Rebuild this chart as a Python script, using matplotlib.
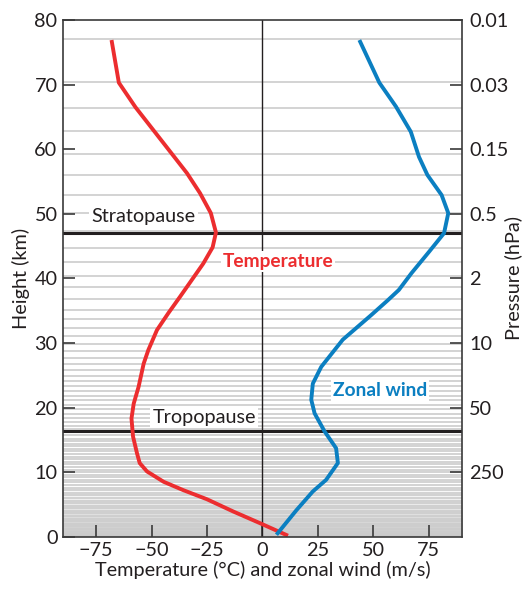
import numpy as np
import matplotlib
matplotlib.use("Agg")
import matplotlib.pyplot as plt

plt.rcParams['font.family'] = ['Lato', 'DejaVu Sans']

# Temperature profile (°C) vs height (km)
temp_h = [76.9, 70.3, 66.5, 56.3, 53.2, 50.1, 47.1, 44.8, 42.3, 37.2, 34.6, 32.0, 28.9,
          26.8, 23.2, 20.6, 18.3, 15.5, 12.9, 11.4, 10.1, 8.5, 7.2, 5.8, 3.9, 2.1, 0.15]
temp_c = [-68.1, -64.8, -57.3, -34.1, -28.2, -23.3, -21.0, -22.5, -26.7, -37.1, -42.5, -47.6, -51.5,
          -53.6, -55.9, -58.1, -59.1, -58.4, -56.6, -55.4, -52.1, -44.6, -35.7, -25.1, -13.2, -1.2, 11.5]

# Zonal wind profile (m/s) vs height (km)
wind_h = [76.9, 70.3, 66.6, 62.7, 58.8, 56.0, 52.9, 50.1, 47.0, 44.1, 40.8, 38.2, 36.6, 34.3,
          30.5, 26.3, 23.7, 21.2, 19.1, 16.3, 13.7, 11.4, 8.8, 7.0, 4.1, 0.3]
wind_ms = [43.7, 52.7, 60.2, 66.9, 70.6, 74.4, 80.8, 83.8, 81.9, 75.1, 67.2, 61.5, 56.5, 49.0,
           36.2, 26.5, 22.7, 22.0, 23.5, 28.0, 33.2, 34.0, 28.7, 22.7, 15.3, 6.3]

# Model level heights (km), grey horizontal lines
level_h = [77.0, 70.4, 66.4, 62.8, 59.3, 56.0, 52.9, 50.1, 47.3, 44.7, 42.6, 40.4, 38.6, 36.8,
           35.1, 33.7, 32.3, 31.0, 29.8, 28.7, 27.7, 26.7, 25.8, 24.9, 24.1, 23.3, 22.6, 21.8,
           21.2, 20.4, 19.7, 19.0, 18.4, 17.8, 17.2, 16.7, 16.2, 15.7, 15.2, 14.8, 14.4, 14.0,
           13.6, 13.2, 12.8, 12.4, 12.0, 11.6, 11.2, 10.8, 10.4, 10.0, 9.6, 9.2, 8.8, 8.4, 8.0,
           7.6, 7.2, 6.8, 6.4, 6.0, 5.6, 5.2, 4.8, 4.4, 4.0, 3.6, 3.2, 2.8, 2.4, 2.0, 1.6, 1.2,
           0.8, 0.4]

stratopause_h = 47.0
tropopause_h = 16.3

height_ticks = [0, 10, 20, 30, 40, 50, 60, 70, 80]
pressure_tick_h = [80, 70, 60, 50, 40, 30, 20, 10]
pressure_labels = ['0.01', '0.03', '0.15', '0.5', '2', '10', '50', '250']
x_ticks = [-75, -50, -25, 0, 25, 50, 75]

RED = '#ec2d2f'
BLUE = '#0b7fc1'
DARK = '#231f20'
FS = 14.3

fig = plt.figure(figsize=(5.24, 6.03), dpi=100)
ax = fig.add_axes([0.1202, 0.110, 0.7615, 0.8568])
ax.set_xlim(-90, 90)
ax.set_ylim(0, 80)

# light gradient near ground
grad = np.linspace(1, 0, 100).reshape(-1, 1)
ax.imshow(grad, extent=[-90, 90, 0, 8], origin='lower', aspect='auto',
          cmap=matplotlib.colors.LinearSegmentedColormap.from_list('g', ['white', '#c8c8c8']),
          zorder=0, alpha=1.0)

for h in level_h:
    ax.axhline(h, color='#cccccc', lw=1.2, zorder=1)

ax.axvline(0, color=DARK, lw=1.0, zorder=2)
ax.axhline(stratopause_h, color=DARK, lw=2.2, zorder=3)
ax.axhline(tropopause_h, color=DARK, lw=2.2, zorder=3)

ax.plot(temp_c, temp_h, color=RED, lw=2.8, zorder=5, solid_capstyle='butt')
ax.plot(wind_ms, wind_h, color=BLUE, lw=2.8, zorder=5, solid_capstyle='butt')

box = dict(facecolor='white', edgecolor='none', pad=1.5)
ax.text(-53.7, 49.5, 'Stratopause', ha='center', va='center', fontsize=FS, color=DARK, bbox=box, zorder=6)
ax.text(-26.3, 18.5, 'Tropopause', ha='center', va='center', fontsize=FS, color=DARK, bbox=box, zorder=6)
ax.text(7.0, 42.6, 'Temperature', ha='center', va='center', fontsize=FS - 0.5, color=RED,
        fontweight='bold', bbox=box, zorder=6)
ax.text(53.0, 22.7, 'Zonal wind', ha='center', va='center', fontsize=FS - 0.5, color=BLUE,
        fontweight='bold', bbox=box, zorder=6)

for s in ax.spines.values():
    s.set_color('#3a3a3a')
    s.set_linewidth(1.2)
    s.set_zorder(7)

ax.set_xticks(x_ticks)
ax.set_xticklabels(['\u2212' + str(-v) if v < 0 else str(v) for v in x_ticks])
ax.set_yticks(height_ticks)
ax.tick_params(direction='in', length=8.5, width=1.2, color='#3a3a3a', labelsize=FS,
               labelcolor=DARK, pad=4)
ax.set_xlabel('Temperature (°C) and zonal wind (m/s)', fontsize=FS, color=DARK, labelpad=1)
ax.set_ylabel('Height (km)', fontsize=FS, color=DARK, labelpad=3)

ax2 = ax.twinx()
ax2.set_ylim(0, 80)
ax2.set_yticks(pressure_tick_h)
ax2.set_yticklabels(pressure_labels)
ax2.tick_params(direction='in', length=8.5, width=1.2, color='#3a3a3a', labelsize=FS,
                labelcolor=DARK, pad=5)
for s in ax2.spines.values():
    s.set_visible(False)

fig.text(513 / 524, 1 - 278 / 603, 'Pressure (hPa)', rotation=90, ha='center', va='center',
         fontsize=FS, color=DARK)

fig.savefig('out.png', dpi=100)
